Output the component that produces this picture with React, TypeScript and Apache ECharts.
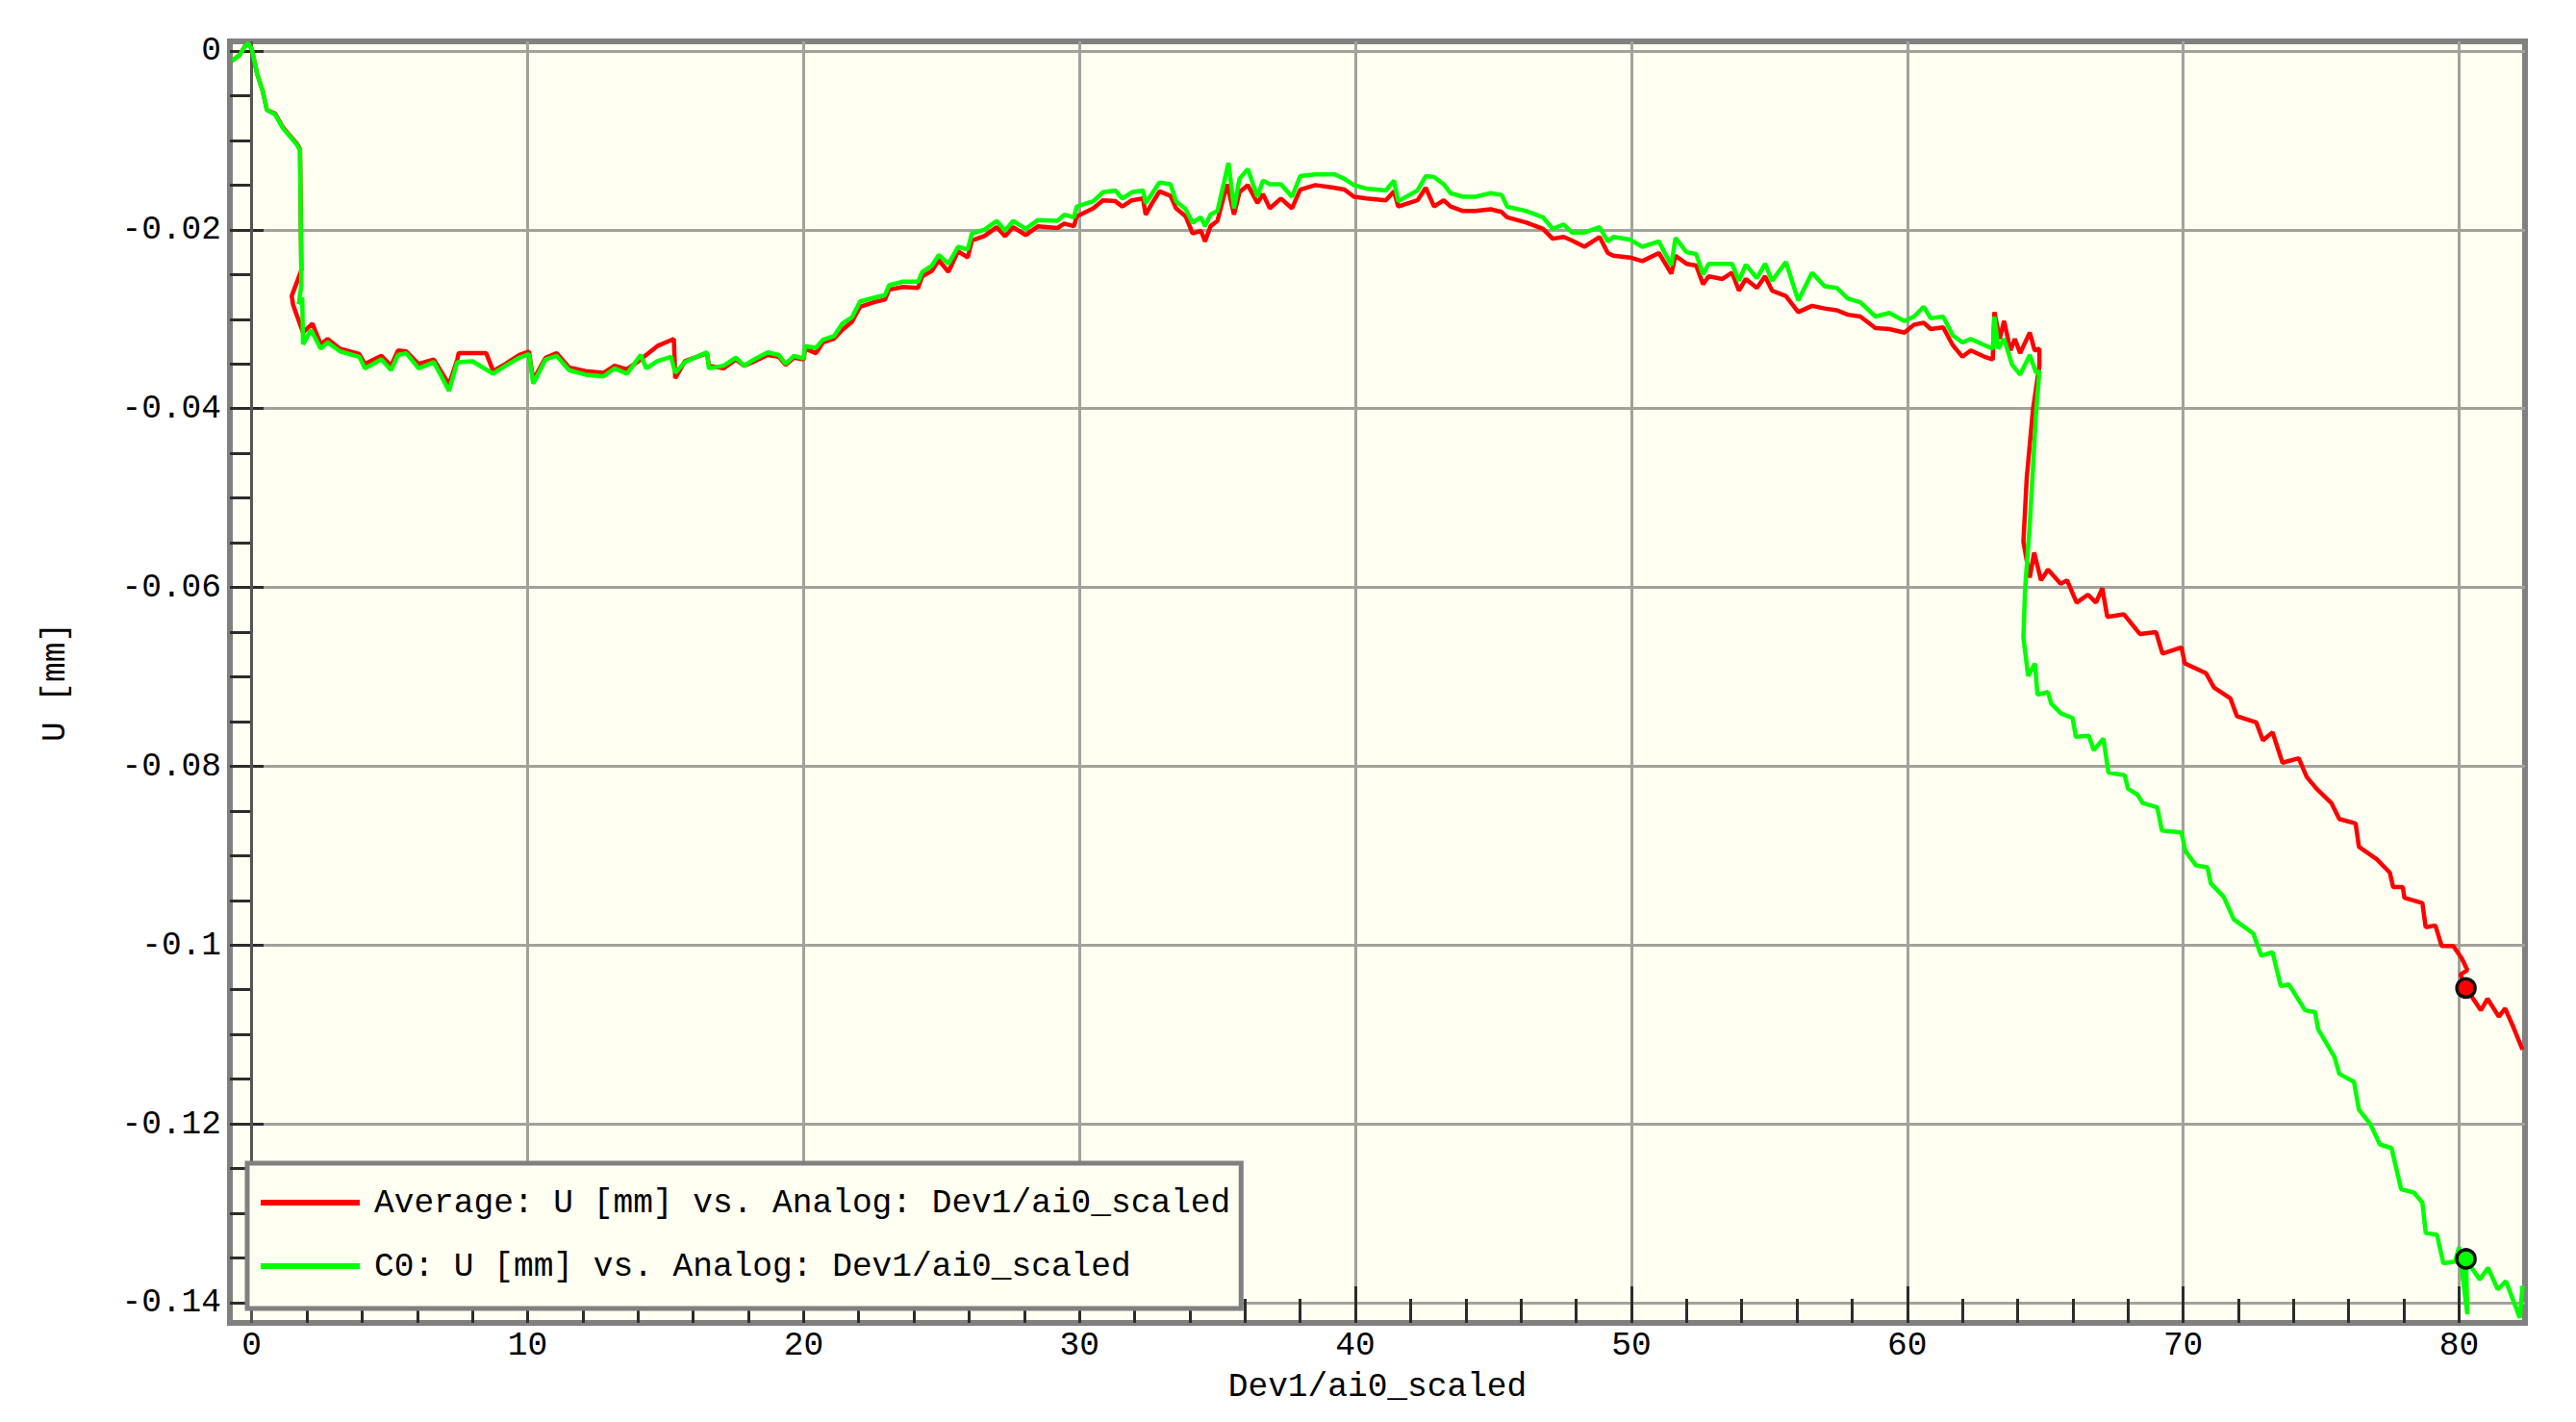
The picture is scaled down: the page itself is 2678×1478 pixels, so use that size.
import React, { useEffect, useRef } from "react";
import * as echarts from "echarts";

// ---------- axis ticks / labels ----------
const X_MAJOR = [0, 10, 20, 30, 40, 50, 60, 70, 80];
const X_MINOR = [2, 4, 6, 8, 12, 14, 16, 18, 22, 24, 26, 28, 32, 34, 36, 38, 42, 44, 46, 48, 52, 54, 56, 58, 62, 64, 66, 68, 72, 74, 76, 78];
const Y_MAJOR = [0, -0.02, -0.04, -0.06, -0.08, -0.1, -0.12, -0.14];
const Y_MINOR = [-0.005, -0.01, -0.015, -0.025, -0.03, -0.035, -0.045, -0.05, -0.055, -0.065, -0.07, -0.075, -0.085, -0.09, -0.095, -0.105, -0.11, -0.115, -0.125, -0.13, -0.135];
const ZERO_LINE = [0];

const X_NAME = "Dev1/ai0_scaled";
const Y_NAME = "U [mm]";
const AVG_NAME = "Average: U [mm] vs. Analog: Dev1/ai0_scaled";
const C0_NAME = "C0: U [mm] vs. Analog: Dev1/ai0_scaled";

// ---------- series values [x, U] ----------
const avgData: number[][] = [
  [-0.72, -0.0011], [-0.45, -0.0005], [-0.25, 0.0005], [-0.13, 0.0009], [0.0, 0.0002], [0.2, -0.0026], [0.4, -0.0045], [0.55, -0.0066],
  [0.85, -0.007], [1.12, -0.0085], [1.45, -0.0097], [1.62, -0.0103], [1.75, -0.011], [1.8, -0.0245], [1.45, -0.0274], [1.5, -0.0284],
  [1.86, -0.0315], [2.2, -0.0305], [2.5, -0.0328], [2.75, -0.0322], [3.2, -0.0333], [3.9, -0.0339], [4.1, -0.035], [4.7, -0.0341],
  [5.05, -0.0352], [5.3, -0.0335], [5.6, -0.0336], [6.05, -0.035], [6.6, -0.0345], [7.15, -0.0373], [7.45, -0.0345], [7.5, -0.0338],
  [8.5, -0.0338], [8.75, -0.0358], [9.2, -0.035], [9.7, -0.034], [10.05, -0.0336], [10.2, -0.0368], [10.65, -0.0343], [11.05, -0.0338],
  [11.5, -0.0354], [12.1, -0.0358], [12.75, -0.036], [13.15, -0.0352], [13.6, -0.0356], [14.1, -0.0345], [14.7, -0.033], [15.3, -0.0322],
  [15.35, -0.0366], [15.7, -0.0347], [16.5, -0.0338], [16.57, -0.0352], [17.1, -0.0355], [17.55, -0.0345], [17.85, -0.0352], [18.15, -0.0348],
  [18.7, -0.034], [19.1, -0.0342], [19.35, -0.0351], [19.65, -0.0343], [20.0, -0.0345], [20.06, -0.0333], [20.45, -0.0338], [20.7, -0.0326],
  [21.1, -0.0322], [21.4, -0.0312], [21.75, -0.0303], [22.05, -0.0286], [22.55, -0.0281], [22.95, -0.0278], [23.1, -0.0267], [23.6, -0.0264],
  [24.15, -0.0265], [24.3, -0.0252], [24.65, -0.0246], [24.9, -0.0234], [25.25, -0.0247], [25.6, -0.0224], [25.95, -0.0231], [26.1, -0.0212],
  [26.55, -0.0207], [27.0, -0.0197], [27.3, -0.0207], [27.6, -0.0197], [28.05, -0.0206], [28.5, -0.0196], [29.2, -0.0198], [29.45, -0.0193],
  [29.8, -0.0196], [29.9, -0.0185], [30.5, -0.0176], [30.85, -0.0167], [31.3, -0.0168], [31.55, -0.0174], [31.9, -0.0167], [32.3, -0.0165],
  [32.4, -0.0183], [32.6, -0.0172], [32.9, -0.0157], [33.3, -0.0162], [33.5, -0.0176], [33.85, -0.0185], [34.1, -0.0204], [34.4, -0.0201],
  [34.55, -0.0213], [34.75, -0.0196], [35.0, -0.019], [35.35, -0.0149], [35.6, -0.0183], [35.8, -0.0158], [36.1, -0.015], [36.45, -0.017],
  [36.65, -0.016], [36.9, -0.0176], [37.3, -0.0165], [37.7, -0.0176], [38.0, -0.0155], [38.55, -0.015], [39.25, -0.0153], [39.6, -0.0155],
  [39.95, -0.0163], [40.4, -0.0165], [41.1, -0.0167], [41.4, -0.0157], [41.55, -0.0174], [42.25, -0.0167], [42.55, -0.0153], [42.85, -0.0174],
  [43.2, -0.0167], [43.45, -0.0174], [43.9, -0.0179], [44.35, -0.0179], [44.9, -0.0177], [45.3, -0.018], [45.5, -0.0186], [46.2, -0.0192],
  [46.8, -0.0199], [47.15, -0.021], [47.55, -0.0208], [47.85, -0.0212], [48.3, -0.0219], [48.85, -0.0208], [49.15, -0.0226], [49.35, -0.0229],
  [49.95, -0.0231], [50.4, -0.0235], [51.0, -0.0226], [51.45, -0.0249], [51.6, -0.0229], [52.0, -0.0238], [52.35, -0.024], [52.6, -0.0261],
  [52.8, -0.0252], [53.3, -0.0255], [53.65, -0.0248], [53.9, -0.0268], [54.15, -0.0255], [54.55, -0.0265], [54.85, -0.0252], [55.1, -0.0268],
  [55.6, -0.0274], [56.05, -0.0292], [56.55, -0.0285], [57.0, -0.0288], [57.45, -0.029], [57.85, -0.0295], [58.3, -0.0297], [58.85, -0.031],
  [59.35, -0.0311], [59.9, -0.0315], [60.25, -0.0306], [60.6, -0.0304], [60.85, -0.0311], [61.3, -0.0309], [61.65, -0.0329], [62.0, -0.0342],
  [62.3, -0.0335], [62.8, -0.0342], [63.1, -0.0345], [63.16, -0.0292], [63.35, -0.0322], [63.51, -0.0302], [63.74, -0.0335], [63.9, -0.0322],
  [64.09, -0.0338], [64.44, -0.0315], [64.62, -0.0335], [64.79, -0.0333], [64.79, -0.0352], [64.56, -0.04], [64.33, -0.0478], [64.21, -0.0549],
  [64.44, -0.0589], [64.6, -0.0561], [64.85, -0.0592], [65.1, -0.058], [65.56, -0.0596], [65.79, -0.0592], [66.14, -0.0617], [66.55, -0.0608],
  [66.84, -0.0617], [67.07, -0.0601], [67.25, -0.0633], [67.85, -0.063], [68.43, -0.0652], [69.02, -0.065], [69.25, -0.0674], [69.94, -0.0667],
  [70.06, -0.0685], [70.83, -0.0696], [71.12, -0.0712], [71.71, -0.0724], [71.95, -0.0744], [72.65, -0.0751], [72.89, -0.0771], [73.24, -0.0762],
  [73.6, -0.0796], [74.19, -0.0791], [74.48, -0.0812], [74.83, -0.0825], [75.37, -0.0841], [75.66, -0.0859], [76.25, -0.0864], [76.37, -0.089],
  [77.02, -0.0904], [77.49, -0.0919], [77.61, -0.0935], [77.96, -0.0935], [78.02, -0.0947], [78.67, -0.0953], [78.79, -0.098], [79.14, -0.0978],
  [79.37, -0.1001], [79.79, -0.1001], [80.1, -0.1015], [80.3, -0.1028], [80.05, -0.1033], [80.25, -0.1048], [80.79, -0.1073], [81.03, -0.106],
  [81.44, -0.108], [81.67, -0.1071], [81.97, -0.1092], [82.3, -0.1117],
];

const c0Data: number[][] = [
  [-0.72, -0.0011], [-0.45, -0.0005], [-0.25, 0.0005], [-0.13, 0.0009], [0.0, 0.0002], [0.2, -0.0026], [0.4, -0.0045], [0.55, -0.0066],
  [0.85, -0.0071], [1.12, -0.0086], [1.45, -0.0098], [1.62, -0.0104], [1.75, -0.0111], [1.78, -0.02], [1.8, -0.0262], [1.7, -0.0283],
  [1.83, -0.0276], [1.86, -0.0328], [2.15, -0.0312], [2.5, -0.0333], [2.75, -0.0326], [3.2, -0.0336], [3.9, -0.0342], [4.1, -0.0355],
  [4.7, -0.0345], [5.05, -0.0357], [5.3, -0.034], [5.6, -0.0338], [6.05, -0.0355], [6.6, -0.0348], [7.15, -0.038], [7.45, -0.0348],
  [8.0, -0.0347], [8.75, -0.0361], [9.2, -0.0352], [9.7, -0.0343], [10.05, -0.0339], [10.2, -0.0372], [10.65, -0.0345], [11.05, -0.0341],
  [11.5, -0.0357], [12.1, -0.0362], [12.75, -0.0364], [13.15, -0.0355], [13.6, -0.0361], [14.1, -0.034], [14.3, -0.0355], [14.7, -0.0347],
  [15.2, -0.0342], [15.35, -0.036], [15.7, -0.0348], [16.5, -0.0337], [16.57, -0.0355], [17.1, -0.0352], [17.55, -0.0343], [17.85, -0.0352],
  [18.15, -0.0346], [18.7, -0.0337], [19.1, -0.034], [19.35, -0.035], [19.65, -0.0341], [20.0, -0.0344], [20.06, -0.033], [20.45, -0.0332],
  [20.7, -0.0323], [21.1, -0.0319], [21.4, -0.0305], [21.75, -0.0298], [22.05, -0.028], [22.55, -0.0276], [22.95, -0.0273], [23.1, -0.0262],
  [23.6, -0.0258], [24.15, -0.0258], [24.3, -0.0247], [24.65, -0.024], [24.9, -0.0228], [25.25, -0.0238], [25.6, -0.0219], [25.95, -0.0222],
  [26.1, -0.0204], [26.55, -0.02], [27.0, -0.019], [27.3, -0.0201], [27.6, -0.019], [28.05, -0.0199], [28.5, -0.0189], [29.2, -0.019],
  [29.45, -0.0183], [29.8, -0.0186], [29.9, -0.0174], [30.5, -0.0168], [30.85, -0.0158], [31.3, -0.0156], [31.55, -0.0165], [31.9, -0.0158],
  [32.3, -0.0156], [32.4, -0.017], [32.6, -0.0161], [32.9, -0.0147], [33.3, -0.0149], [33.5, -0.0168], [33.85, -0.0177], [34.1, -0.0192],
  [34.4, -0.0186], [34.55, -0.0196], [34.75, -0.0183], [35.0, -0.0179], [35.4, -0.0125], [35.6, -0.0176], [35.8, -0.0143], [36.1, -0.0132],
  [36.45, -0.0163], [36.65, -0.0145], [36.9, -0.0149], [37.3, -0.0149], [37.7, -0.0163], [38.0, -0.014], [38.55, -0.0138], [39.25, -0.0138],
  [39.6, -0.0143], [39.95, -0.015], [40.4, -0.0154], [41.1, -0.0156], [41.4, -0.0145], [41.55, -0.0168], [42.25, -0.0156], [42.55, -0.014],
  [42.85, -0.0141], [43.2, -0.0149], [43.45, -0.0159], [43.9, -0.0163], [44.35, -0.0163], [44.9, -0.0159], [45.3, -0.0161], [45.5, -0.0174],
  [46.2, -0.0179], [46.8, -0.0186], [47.15, -0.0199], [47.55, -0.0194], [47.85, -0.0203], [48.3, -0.0203], [48.85, -0.0197], [49.15, -0.0213],
  [49.35, -0.0208], [49.95, -0.0211], [50.4, -0.0219], [51.0, -0.0213], [51.45, -0.024], [51.6, -0.0209], [52.0, -0.0225], [52.35, -0.0227],
  [52.6, -0.025], [52.8, -0.0238], [53.3, -0.0238], [53.65, -0.0238], [53.9, -0.0257], [54.15, -0.0239], [54.55, -0.0254], [54.85, -0.0238],
  [55.1, -0.0257], [55.6, -0.0236], [56.05, -0.0279], [56.55, -0.0248], [57.0, -0.0263], [57.45, -0.0265], [57.85, -0.0277], [58.3, -0.0281],
  [58.85, -0.0297], [59.35, -0.0293], [59.9, -0.0302], [60.25, -0.0297], [60.6, -0.0286], [60.85, -0.0299], [61.3, -0.0297], [61.65, -0.0318],
  [62.0, -0.0326], [62.3, -0.0322], [62.8, -0.0329], [63.1, -0.0333], [63.16, -0.0297], [63.3, -0.0333], [63.51, -0.0322], [63.8, -0.0351],
  [64.09, -0.0362], [64.44, -0.034], [64.67, -0.036], [64.79, -0.0358], [64.67, -0.0404], [64.44, -0.053], [64.27, -0.0602], [64.21, -0.0656],
  [64.38, -0.0699], [64.63, -0.0685], [64.72, -0.072], [65.1, -0.0717], [65.22, -0.073], [65.58, -0.0741], [65.99, -0.0746], [66.11, -0.0767],
  [66.58, -0.0766], [66.76, -0.0782], [67.11, -0.0769], [67.29, -0.0807], [67.88, -0.081], [68.0, -0.0825], [68.35, -0.0832], [68.53, -0.0841],
  [69.06, -0.0846], [69.23, -0.0872], [69.94, -0.0874], [70.08, -0.0895], [70.47, -0.0911], [70.88, -0.0913], [71.0, -0.0931], [71.47, -0.0946],
  [71.83, -0.0971], [72.54, -0.0987], [72.83, -0.1012], [73.24, -0.1008], [73.54, -0.1046], [73.83, -0.1044], [74.42, -0.1073], [74.78, -0.1075],
  [74.89, -0.1094], [75.48, -0.1125], [75.66, -0.1144], [76.19, -0.1153], [76.37, -0.1184], [76.78, -0.12], [77.13, -0.1223], [77.55, -0.1227],
  [77.9, -0.1273], [78.37, -0.1277], [78.67, -0.1288], [78.79, -0.1322], [79.2, -0.1324], [79.43, -0.1356], [79.85, -0.1354], [80.0, -0.1338],
  [80.3, -0.1413], [80.25, -0.1352], [80.75, -0.1374], [81.05, -0.1361], [81.4, -0.1385], [81.7, -0.1376], [82.2, -0.1417], [82.3, -0.1381],
];

const avgMarker: number[][] = [[80.25, -0.1048]];
const c0Marker: number[][] = [[80.25, -0.1351]];

// ---------- styling ----------
const FONT = '"Liberation Mono", "DejaVu Sans Mono", monospace';
const FS = 34.5;
const X_MIN = -0.791;
const X_MAX = 82.39;
const Y_MIN = -0.14226;
const Y_MAX = 0.001076;
const TICK_COLOR = "#2c2c2c";
const GRID_COLOR = "#a2a29b";

export default function App() {
  const ref = useRef<HTMLDivElement>(null);

  useEffect(() => {
    document.body.style.margin = "0";
    const chart = echarts.init(ref.current as HTMLDivElement, null, { renderer: "svg" });
    const labelStyle = { fontFamily: FONT, fontSize: FS, color: "#000" };

    const option: any = {
      animation: false,
      backgroundColor: "#ffffff",
      grid: {
        left: 239,
        top: 43,
        width: 2386,
        height: 1332,
        show: true,
        backgroundColor: "#fffff2",
        borderColor: "#808080",
        borderWidth: 6,
        containLabel: false,
        outerBoundsMode: "none",
      },
      legend: {
        data: [AVG_NAME, C0_NAME],
        orient: "vertical",
        left: 257,
        top: 1209,
        padding: [21, 11, 24, 14],
        itemGap: 26,
        itemWidth: 103,
        itemHeight: 6,
        icon: "rect",
        backgroundColor: "#fffff2",
        borderColor: "#808080",
        borderWidth: 5,
        borderRadius: 0,
        selectedMode: false,
        textStyle: { ...labelStyle, lineHeight: 40, padding: [0, 0, 0, 10] },
        z: 10,
      },
      xAxis: [
        {
          type: "value",
          min: X_MIN,
          max: X_MAX,
          splitNumber: 8,
          position: "bottom",
          name: X_NAME,
          nameLocation: "middle",
          nameGap: 49,
          nameTextStyle: labelStyle,
          axisLine: { show: false, onZero: false },
          axisTick: { show: true, inside: true, length: 38, customValues: X_MAJOR, lineStyle: { color: TICK_COLOR, width: 3 } },
          axisLabel: { show: true, customValues: X_MAJOR, margin: 6, ...labelStyle },
          splitLine: { show: true, lineStyle: { color: GRID_COLOR, width: 3 } },
          minorTick: { show: false },
        },
        {
          type: "value",
          min: X_MIN,
          max: X_MAX,
          position: "bottom",
          axisLine: { show: false, onZero: false },
          axisTick: { show: true, inside: true, length: 25, customValues: X_MINOR, lineStyle: { color: TICK_COLOR, width: 3 } },
          axisLabel: { show: false },
          splitLine: { show: false },
        },
      ],
      yAxis: [
        {
          type: "value",
          min: Y_MIN,
          max: Y_MAX,
          splitNumber: 7,
          position: "left",
          name: Y_NAME,
          nameLocation: "middle",
          nameGap: 164,
          nameTextStyle: labelStyle,
          axisLine: { show: false, onZero: false },
          axisTick: { show: true, inside: true, length: 35, customValues: Y_MAJOR, lineStyle: { color: TICK_COLOR, width: 3 } },
          axisLabel: { show: true, customValues: Y_MAJOR, margin: 9, ...labelStyle },
          splitLine: { show: true, lineStyle: { color: GRID_COLOR, width: 3 } },
        },
        {
          type: "value",
          min: Y_MIN,
          max: Y_MAX,
          position: "left",
          axisLine: { show: false, onZero: false },
          axisTick: { show: true, inside: true, length: 22, customValues: Y_MINOR, lineStyle: { color: TICK_COLOR, width: 3 } },
          axisLabel: { show: false },
          splitLine: { show: false },
        },
      ],
      series: [
        {
          name: AVG_NAME,
          type: "line",
          xAxisIndex: 0,
          yAxisIndex: 0,
          data: avgData,
          showSymbol: false,
          symbol: "none",
          color: "#ff0000",
          itemStyle: { color: "#ff0000" },
          lineStyle: { color: "#ff0000", width: 4.5 },
          z: 3,
          markLine: {
            silent: true,
            symbol: ["none", "none"],
            label: { show: false },
            lineStyle: { color: "#555555", width: 3, type: "solid" },
            data: ZERO_LINE.map((v) => ({ xAxis: v })),
            z: 2,
          },
        },
        {
          name: C0_NAME,
          type: "line",
          xAxisIndex: 0,
          yAxisIndex: 0,
          data: c0Data,
          showSymbol: false,
          symbol: "none",
          color: "#00ff00",
          itemStyle: { color: "#00ff00" },
          lineStyle: { color: "#00ff00", width: 4.5 },
          z: 4,
        },
        {
          name: "avgMarker",
          type: "scatter",
          data: avgMarker,
          symbolSize: 19,
          itemStyle: { color: "#ff0000", borderColor: "#111111", borderWidth: 3.5, opacity: 1 },
          z: 6,
        },
        {
          name: "c0Marker",
          type: "scatter",
          data: c0Marker,
          symbolSize: 19,
          itemStyle: { color: "#00ff00", borderColor: "#111111", borderWidth: 3.5, opacity: 1 },
          z: 6,
        },
      ],
    };

    chart.setOption(option);
    return () => chart.dispose();
  }, []);

  return (
    <div
      ref={ref}
      style={{ position: "fixed", left: 0, top: 0, width: 2678, height: 1478, background: "#ffffff" }}
    />
  );
}
